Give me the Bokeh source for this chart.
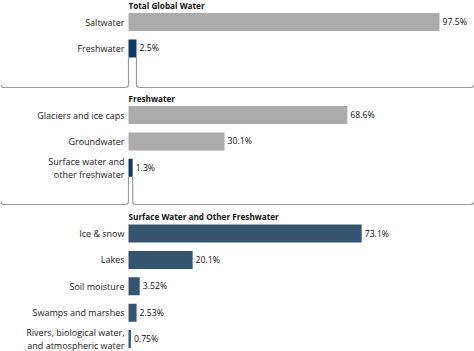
from bokeh.plotting import figure
from bokeh.models import Range1d, ColumnDataSource
from bokeh.core.properties import value
from bokeh.embed import file_html
from bokeh.resources import INLINE

# ---- data ----
panel_titles = ["Total Global Water", "Freshwater", "Surface Water and Other Freshwater"]
p1_labels = ["Saltwater", "Freshwater"]
p1_values = [97.5, 2.5]
p2_labels = ["Glaciers and ice caps", "Groundwater", "Surface water and\nother freshwater"]
p2_values = [68.6, 30.1, 1.3]
p3_labels = ["Ice & snow", "Lakes", "Soil moisture", "Swamps and marshes",
             "Rivers, biological water,\nand atmospheric water"]
p3_values = [73.1, 20.1, 3.52, 2.53, 0.75]

GRAY = "#ababab"
NAVY = "#0f3a5f"
STEEL = "#34546f"
p1_colors = [GRAY, NAVY]
p2_colors = [GRAY, GRAY, NAVY]
p3_colors = [STEEL] * 5
# bar of each panel that is broken down in the next panel
expanded_index = [1, 2]

# ---- layout ----
W, H = 474, 351
PX_PER_UNIT = 3.19
X0_PX = 128
title_y = [4.5, 97.5, 216]
FIRST_OFF = 17
STEP = 26.4
BAR_H = 18
LINE_GAP = 12.6
bracket_y = [87, 204]

p = figure(width=W, height=H, output_backend="svg", toolbar_location=None,
           x_range=Range1d(-X0_PX / PX_PER_UNIT, (W - X0_PX) / PX_PER_UNIT),
           y_range=Range1d(H, 0), min_border=0)
p.axis.visible = False
p.grid.visible = False
p.outline_line_color = None
p.background_fill_color = "white"

panels = [(p1_labels, p1_values, p1_colors),
          (p2_labels, p2_values, p2_colors),
          (p3_labels, p3_values, p3_colors)]

bar_rows = []
for k, (labels, vals, cols) in enumerate(panels):
    ys = [title_y[k] + FIRST_OFF + i * STEP for i in range(len(vals))]
    bar_rows.append(ys)
    src = ColumnDataSource(dict(y=ys, v=vals, c=cols,
                                txt=[f"{v}%" for v in vals]))
    p.hbar(y="y", left=0, right="v", height=BAR_H, fill_color="c",
           line_color=None, source=src)
    # category labels (multi-line labels split into separate lines)
    ly, lt = [], []
    for y, lab in zip(ys, labels):
        parts = lab.split("\n")
        n = len(parts)
        for j, part in enumerate(parts):
            ly.append(y + (j - (n - 1) / 2) * LINE_GAP)
            lt.append(part)
    p.text(x=[0] * len(ly), y=ly, text=lt, x_offset=-4,
           text_align="right", text_baseline="middle",
           text_font=value("Open Sans"), text_font_size="9px",
           text_color="#222222")
    p.text(x="v", y="y", text="txt", source=src, x_offset=3,
           text_align="left", text_baseline="middle",
           text_font=value("Open Sans"), text_font_size="8.7px",
           text_color="#111111")
    p.text(x=[0], y=[title_y[k]], text=[panel_titles[k]],
           text_align="left", text_baseline="middle",
           text_font=value("Open Sans"), text_font_size="8.2px",
           text_font_style="bold", text_color="#111111")

# ---- braces between panels ----
xmin = p.x_range.start + 0.5 / PX_PER_UNIT
xmax = p.x_range.end - 0.5 / PX_PER_UNIT
r = 3.0
rx = r / PX_PER_UNIT
for k in range(2):
    idx = expanded_index[k]
    v = panels[k][1][idx]
    top = bar_rows[k][idx] + BAR_H / 2
    by = bracket_y[k]
    lc = "#9a9a9a"
    lw = 1.2
    # left arm
    p.line([0, 0], [top, by - r], line_color=lc, line_width=lw)
    p.quadratic(x0=[0], y0=[by - r], x1=[-rx], y1=[by], cx=[0], cy=[by],
                line_color=lc, line_width=lw)
    p.line([-rx, xmin + rx], [by, by], line_color=lc, line_width=lw)
    p.quadratic(x0=[xmin + rx], y0=[by], x1=[xmin], y1=[by - r], cx=[xmin], cy=[by],
                line_color=lc, line_width=lw)
    # right arm
    p.line([v, v], [top, by - r], line_color=lc, line_width=lw)
    p.quadratic(x0=[v], y0=[by - r], x1=[v + rx], y1=[by], cx=[v], cy=[by],
                line_color=lc, line_width=lw)
    p.line([v + rx, xmax - rx], [by, by], line_color=lc, line_width=lw)
    p.quadratic(x0=[xmax - rx], y0=[by], x1=[xmax], y1=[by - r], cx=[xmax], cy=[by],
                line_color=lc, line_width=lw)

open("out.html", "w").write(file_html(p, INLINE))
